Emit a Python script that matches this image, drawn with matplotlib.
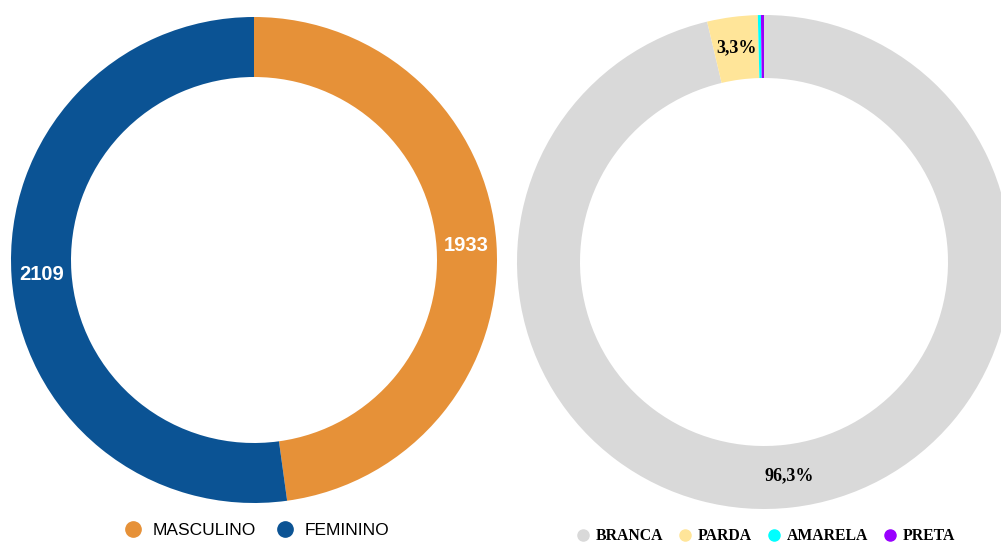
import matplotlib.pyplot as plt
from matplotlib.lines import Line2D

# dados
sexo = ['MASCULINO', 'FEMININO']
sexo_valores = [1933, 2109]
sexo_cores = ['#E69138', '#0B5394']

raca = ['BRANCA', 'PARDA', 'AMARELA', 'PRETA']
raca_valores = [96.3, 3.3, 0.2, 0.2]
raca_cores = ['#D9D9D9', '#FFE599', '#00FFFF', '#9900FF']

W, H = 1001, 542
fig = plt.figure(figsize=(W / 100, H / 100), dpi=100)
ax = fig.add_axes([0, 0, 1, 1])

total = sum(sexo_valores)
_, _, txt1 = ax.pie(sexo_valores, colors=sexo_cores, startangle=90, counterclock=False,
                    center=(254, 282), radius=243,
                    wedgeprops=dict(width=60, linewidth=0),
                    autopct=lambda p: f'{round(p * total / 100)}', pctdistance=0.876)
for t in txt1:
    t.set_color('white')
    t.set_fontsize(14.5)
    t.set_fontweight('bold')
    t.set_family('Liberation Sans')

_, _, txt2 = ax.pie(raca_valores, colors=raca_cores, startangle=90, counterclock=False,
                    center=(764, 280), radius=247,
                    wedgeprops=dict(width=63, linewidth=0),
                    autopct=lambda p: f'{p:.1f}%'.replace('.', ',') if p > 1 else '',
                    pctdistance=0.873)
for t in txt2:
    t.set_color('black')
    t.set_fontsize(13)
    t.set_fontweight('bold')
    t.set_family('Liberation Serif')

ax.set_xlim(0, W)
ax.set_ylim(0, H)
ax.set_aspect('equal')
ax.axis('off')

h1 = [Line2D([], [], marker='o', ls='', markersize=11, color=c) for c in sexo_cores]
fig.legend(h1, sexo, loc='center', bbox_to_anchor=(256 / W, 12 / H), ncol=2, frameon=False,
           prop={'family': 'Liberation Sans', 'size': 12.5}, handletextpad=0.5,
           columnspacing=1.1, handlelength=1.2)

h2 = [Line2D([], [], marker='o', ls='', markersize=8, color=c) for c in raca_cores]
fig.legend(h2, raca, loc='center', bbox_to_anchor=(765 / W, 6 / H), ncol=4, frameon=False,
           prop={'family': 'Liberation Serif', 'size': 11.3, 'weight': 'bold'},
           handletextpad=0.3, columnspacing=0.9, handlelength=1.0)

fig.savefig('out.png', dpi=100)
